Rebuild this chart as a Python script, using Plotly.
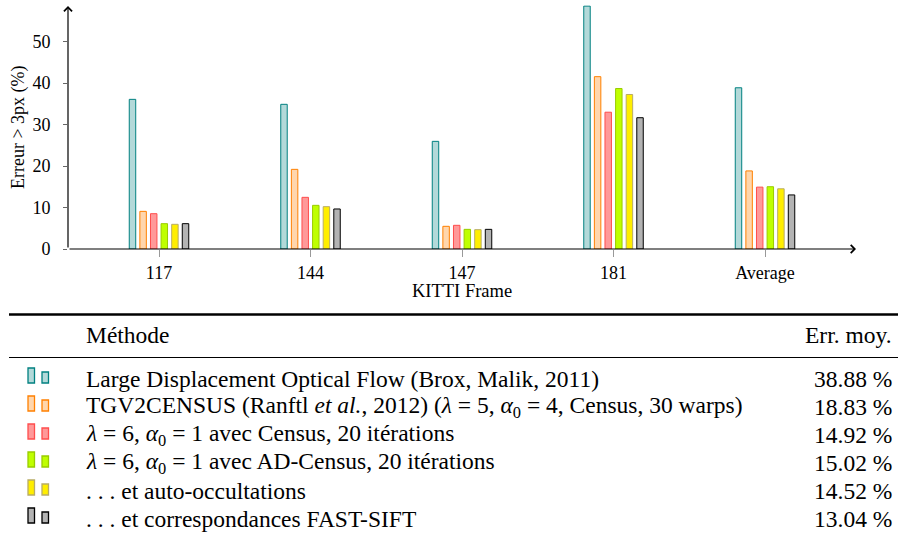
import plotly.graph_objects as go

# ---------------- data ----------------
frames = ["117", "144", "147", "181", "Average"]
methods = [
    "Large Displacement Optical Flow (Brox, Malik, 2011)",
    "TGV2CENSUS (Ranftl <i>et al.</i>, 2012) (<i>λ</i> = 5, <i>α</i><sub>0</sub> = 4, Census, 30 warps)",
    "<i>λ</i> = 6, <i>α</i><sub>0</sub> = 1 avec Census, 20 itérations",
    "<i>λ</i> = 6, <i>α</i><sub>0</sub> = 1 avec AD-Census, 20 itérations",
    ". . . et auto-occultations",
    ". . . et correspondances FAST-SIFT",
]
ldof = [36.09, 34.89, 25.96, 58.58, 38.88]
tgv2census = [9.08, 19.21, 5.47, 41.56, 18.83]
census = [8.52, 12.46, 5.71, 32.99, 14.92]
adcensus = [6.11, 10.53, 4.74, 38.70, 15.02]
autoocc = [5.95, 10.21, 4.66, 37.26, 14.52]
fastsift = [6.11, 9.65, 4.74, 31.66, 13.04]
series = [ldof, tgv2census, census, adcensus, autoocc, fastsift]
y_ticks = [0, 10, 20, 30, 40, 50]

fills = ["#b3d9d9", "#ffd6ad", "#ff9999", "#bfff00", "#ffee00", "#b3b3b3"]
edges = ["#008080", "#ff8000", "#ff4d4d", "#99cc00", "#b8ac66", "#000000"]

W, H = 899, 535
FONT = "Liberation Serif, Times New Roman, serif"

def px(x):
    return x / W

def py(y):
    return 1 - y / H

fig = go.Figure()
for vals, name, fc, ec in zip(series, methods, fills, edges):
    fig.add_trace(go.Bar(
        x=frames, y=vals, name=name,
        marker=dict(color=fc, line=dict(color=ec, width=1)),
        showlegend=False,
    ))

shapes = []
annotations = []

# axes arrows
annotations.append(dict(xref="paper", yref="paper", x=px(856), y=py(249), ax=-788, ay=0,
                        axref="pixel", ayref="pixel", text="", showarrow=True,
                        arrowhead=4, arrowsize=1.3, arrowwidth=1.2, arrowcolor="black"))
annotations.append(dict(xref="paper", yref="paper", x=px(68), y=py(6), ax=0, ay=243,
                        axref="pixel", ayref="pixel", text="", showarrow=True,
                        arrowhead=4, arrowsize=1.3, arrowwidth=1.2, arrowcolor="black"))

# axis titles
annotations.append(dict(xref="paper", yref="paper", x=px(462), y=py(290.5), text="KITTI Frame",
                        showarrow=False, xanchor="center", yanchor="middle",
                        font=dict(family=FONT, size=18.5, color="black")))
annotations.append(dict(xref="paper", yref="paper", x=px(19), y=py(127), text="Erreur > 3px (%)",
                        showarrow=False, textangle=-90, xanchor="center", yanchor="middle",
                        font=dict(family=FONT, size=18, color="black")))

# ---------------- table ----------------
TF = 23.5
shapes.append(dict(type="line", xref="paper", yref="paper", x0=px(9), x1=px(898),
                   y0=py(314.5), y1=py(314.5), line=dict(color="black", width=2.5)))
shapes.append(dict(type="line", xref="paper", yref="paper", x0=px(9), x1=px(898),
                   y0=py(357.5), y1=py(357.5), line=dict(color="black", width=1.2)))
annotations.append(dict(xref="paper", yref="paper", x=px(84), y=py(335), text="Méthode",
                        showarrow=False, xanchor="left", yanchor="middle",
                        font=dict(family=FONT, size=TF, color="black")))
annotations.append(dict(xref="paper", yref="paper", x=px(894), y=py(335), text="Err. moy.",
                        showarrow=False, xanchor="right", yanchor="middle",
                        font=dict(family=FONT, size=TF, color="black")))

row_y0 = 379
row_dy = 28
for i, (vals, name, fc, ec) in enumerate(zip(series, methods, fills, edges)):
    yc = row_y0 + i * row_dy
    annotations.append(dict(xref="paper", yref="paper", x=px(84), y=py(yc), text=name,
                            showarrow=False, xanchor="left", yanchor="middle",
                            font=dict(family=FONT, size=TF, color="black")))
    annotations.append(dict(xref="paper", yref="paper", x=px(894), y=py(yc),
                            text=f"{vals[-1]:.2f} %",
                            showarrow=False, xanchor="right", yanchor="middle",
                            font=dict(family=FONT, size=TF, color="black")))
    bottom = yc + 4
    shapes.append(dict(type="rect", xref="paper", yref="paper",
                       x0=px(28), x1=px(34.5), y0=py(bottom), y1=py(bottom - 15),
                       fillcolor=fc, line=dict(color=ec, width=1.3)))
    shapes.append(dict(type="rect", xref="paper", yref="paper",
                       x0=px(42), x1=px(48.5), y0=py(bottom), y1=py(bottom - 11),
                       fillcolor=fc, line=dict(color=ec, width=1.3)))

ymax = 58.8
fig.update_layout(
    width=W, height=H,
    margin=dict(l=0, r=0, t=0, b=0),
    paper_bgcolor="white", plot_bgcolor="white",
    barmode="group", bargap=0.58, bargroupgap=0.39,
    font=dict(family=FONT, color="black"),
    xaxis=dict(domain=[px(68), px(855)], range=[-0.6007, 4.594], type="category",
               showline=False, showgrid=False, zeroline=False,
               ticks="outside", ticklen=7, tickwidth=1, tickcolor="#999999",
               tickfont=dict(family=FONT, size=18, color="black"), ticklabelstandoff=0,
               automargin=False),
    yaxis=dict(domain=[py(249), py(249 - ymax * 4.1467)], range=[0, ymax],
               tickvals=y_ticks, showline=False, showgrid=False, zeroline=False,
               ticks="outside", ticklen=4, tickwidth=1, tickcolor="#666666",
               tickfont=dict(family=FONT, size=18, color="black"), ticklabelstandoff=9,
               automargin=False),
    shapes=shapes,
    annotations=annotations,
)

fig.write_html("out.html", config={"displayModeBar": False},
               post_script="document.body.style.margin='0';document.body.style.overflow='hidden';")
